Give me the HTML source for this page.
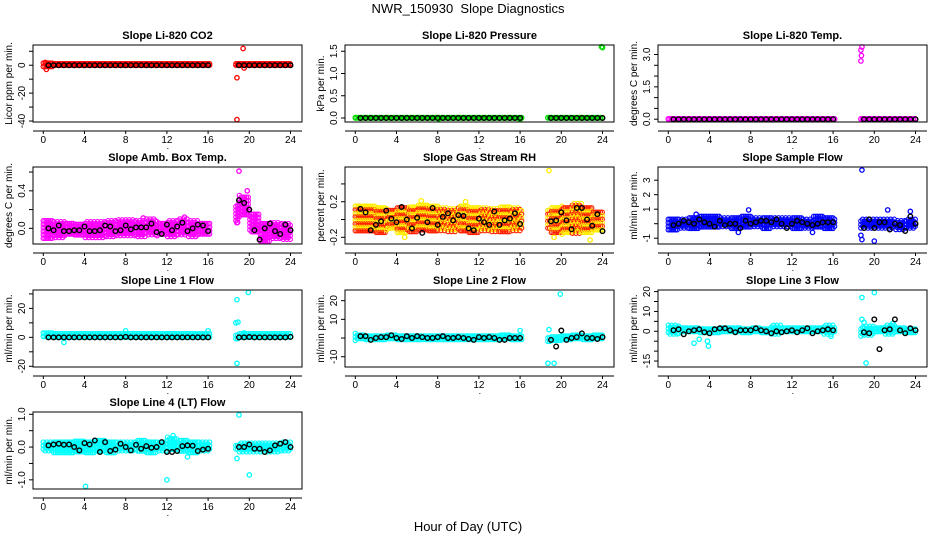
<!DOCTYPE html>
<html><head><meta charset="utf-8"><style>
html,body{margin:0;padding:0;background:#fff;}
svg{display:block;font-family:"Liberation Sans",sans-serif;}
</style></head><body>
<svg id="chart" width="936" height="540" viewBox="0 0 936 540">
<text x="468" y="13" text-anchor="middle" font-size="13">NWR_150930&#160;&#160;Slope Diagnostics</text>
<text x="468" y="531" text-anchor="middle" font-size="13">Hour of Day (UTC)</text>
</svg>
<script>
// shared hours for black (hourly mean) points
const meanHours = [0.5,1,1.5,2,2.5,3,3.5,4,4.5,5,5.5,6,6.5,7,7.5,8,8.5,9,9.5,10,10.5,11,11.5,12,12.5,13,13.5,14,14.5,15,15.5,16,19,19.5,20,20.5,21,21.5,22,22.5,23,23.5,24];
const xTicks = [0,4,8,12,16,20,24];

// CO2
const co2Mean = [0,0,0,0,0,0,0,0,0,0,0,0,0,0,0,0,0,0,0,0,0,0,0,0,0,0,0,0,0,0,0,0,0,0,0,0,0,0,0,0,0,0,0];
const co2Lo = [-1.5,-1,-1,-1,-1,-1,-1,-1,-1,-1,-1,-1,-1,-1,-1,-1,-1,null,-1,-1,-1,-1,-1,-1,-1];
const co2Hi = [1.5,1,1,1,1,1,1,1,1,1,1,1,1,1,1,1,1,null,1,1,1,1,1,1,1];
const co2OutX = [0.3,0.2,18.8,18.8,19.4,19.5];
const co2OutY = [-3,2,-9,-39,12,-2];
// Pressure
const presMean = [0,0,0,0,0,0,0,0,0,0,0,0,0,0,0,0,0,0,0,0,0,0,0,0,0,0,0,0,0,0,0,0,0,0,0,0,0,0,0,0,0,0,0];
const presLo = [-0.01,-0.01,-0.01,-0.01,-0.01,-0.01,-0.01,-0.01,-0.01,-0.01,-0.01,-0.01,-0.01,-0.01,-0.01,-0.01,-0.01,null,-0.01,-0.01,-0.01,-0.01,-0.01,-0.01,-0.01];
const presHi = [0.01,0.01,0.01,0.01,0.01,0.01,0.01,0.01,0.01,0.01,0.01,0.01,0.01,0.01,0.01,0.01,0.01,null,0.01,0.01,0.01,0.01,0.01,0.01,0.01];
const presOutX = [24,23.9,16,8.1];
const presOutY = [1.58,1.6,-0.03,-0.02];
// Li-820 temp
const tempMean = [0,0,0,0,0,0,0,0,0,0,0,0,0,0,0,0,0,0,0,0,0,0,0,0,0,0,0,0,0,0,0,0,0,0,0,0,0,0,0,0,0,0,0];
const tempLo = [-0.02,-0.02,-0.02,-0.02,-0.02,-0.02,-0.02,-0.02,-0.02,-0.02,-0.02,-0.02,-0.02,-0.02,-0.02,-0.02,-0.02,null,-0.02,-0.02,-0.02,-0.02,-0.02,-0.02,-0.02];
const tempHi = [0.02,0.02,0.02,0.02,0.02,0.02,0.02,0.02,0.02,0.02,0.02,0.02,0.02,0.02,0.02,0.02,0.02,null,0.02,0.02,0.02,0.02,0.02,0.02,0.02];
const tempOutX = [18.7,18.75,18.7,18.8];
const tempOutY = [3.2,2.95,2.7,3.35];
// Amb box temp
const ambMean = [0,-0.02,0.03,-0.03,-0.03,-0.02,-0.02,0.02,-0.03,-0.03,-0.02,0.03,0.02,-0.03,-0.02,0.03,-0.01,0.01,0.01,0.01,0.05,-0.04,-0.06,0.04,-0.02,0.02,0.06,-0.03,0,0.04,0.03,-0.03,0.3,0.27,0.2,-0.02,-0.12,0,0.05,-0.03,-0.06,0.04,-0.02];
const ambLo = [-0.12,-0.1,-0.09,-0.1,-0.1,-0.11,-0.1,-0.09,-0.09,-0.1,-0.08,-0.09,-0.1,-0.08,-0.09,-0.09,-0.07,null,0.05,0.12,-0.05,-0.15,-0.12,-0.12,-0.1];
const ambHi = [0.08,0.07,0.07,0.06,0.07,0.07,0.08,0.09,0.09,0.08,0.1,0.07,0.08,0.1,0.08,0.07,0.07,null,0.25,0.35,0.15,0.05,0.06,0.05,0.05];
const ambOutX = [19,18.8,19.8,13.7,9.7];
const ambOutY = [0.61,0.06,0.4,0.12,0.11];
// Gas stream RH
const rhMean = [0.12,0.08,-0.12,-0.06,-0.02,0.1,0.01,-0.03,0.14,0,-0.1,0.02,-0.15,-0.03,0.13,-0.06,0.03,0.07,-0.01,0.05,0.04,-0.1,-0.12,0.01,-0.03,-0.06,0.09,-0.06,-0.01,0.01,0.07,-0.05,-0.02,-0.01,0.08,-0.01,-0.11,0.13,0.13,0,-0.07,0.06,-0.13];
const rhLo = [-0.13,-0.15,-0.15,-0.13,-0.15,-0.14,-0.15,-0.15,-0.13,-0.15,-0.14,-0.15,-0.14,-0.15,-0.15,-0.13,-0.1,null,-0.1,-0.17,-0.18,-0.16,-0.15,-0.15,-0.12];
const rhHi = [0.15,0.15,0.13,0.12,0.15,0.14,0.16,0.15,0.13,0.12,0.15,0.13,0.13,0.12,0.14,0.13,0.1,null,0.1,0.13,0.15,0.18,0.15,0.1,0.05];
const rhOutX = [18.8,6.4,4.8,22.8,10.7,19.3];
const rhOutY = [0.55,0.21,-0.2,-0.23,0.2,-0.2];
// Sample flow
const sfMean = [-0.1,0,0.2,0.1,0,0.3,0.1,0,-0.2,0.2,-0.1,0,0,-0.3,0.2,0,0.1,0.2,0.2,0.1,0.3,0,-0.3,0,0.2,0.1,0,-0.1,0,0.1,0.1,0.1,-0.3,0.3,-0.3,0.1,0.1,-0.4,0,-0.1,-0.5,0.5,0];
const sfLo = [-0.5,-0.4,-0.4,-0.4,-0.4,-0.3,-0.4,-0.3,-0.3,-0.4,-0.3,-0.3,-0.4,-0.4,-0.3,-0.4,-0.4,null,-0.3,-0.4,-0.4,-0.3,-0.4,-0.4,-0.3];
const sfHi = [0.3,0.3,0.4,0.5,0.5,0.4,0.4,0.5,0.4,0.4,0.4,0.4,0.4,0.3,0.5,0.4,0.3,null,0.3,0.3,0.3,0.3,0.2,0.3,0.3];
const sfOutX = [7.8,18.8,18.7,18.8,20,21.3,23.5,6.8,14,2.7];
const sfOutY = [0.95,3.7,-0.8,-1.1,-1.2,0.95,0.85,-0.6,-0.6,0.65];
// Line 1
const l1Mean = [0,0,0,0,0,0,0,0,0,0,0,0,0,0,0,0.3,0,0,0,0,0,0,0,0,0,0,0,0,0,0,0,0,0,0,0.2,0,0,0,0,0,0,0,0.3];
const l1Lo = [-1.5,-1.5,-2,-1.5,-1.5,-1.5,-1.5,-1.5,-1.5,-1.5,-1.5,-1.5,-1.5,-1.5,-1.5,-1.5,-1.5,null,-1.5,-1.5,-2,-1.5,-1.5,-1.5,-1.5];
const l1Hi = [3,2.5,2.5,2.5,2.5,2.5,2.5,2.5,2.5,2.5,2.5,2.5,2.5,2.5,2.5,2.5,2.5,null,1.5,2.5,2.5,2.5,2.5,2.5,2.5];
const l1OutX = [18.8,19.9,18.7,18.9,18.8,2,8,16,12,19.5];
const l1OutY = [26,31,10,10.5,-18,-3.5,4.5,4.5,2.5,3];
// Line 2
const l2Mean = [1,1,-1,0,0.5,0.5,1.5,0,-0.5,1,0,1,0.5,0,0,0.5,1,0,0,0.5,0,-0.5,-1,0.5,0,0.5,0,-1,-1,0,0,0,-1,-4.5,4,-1,0,0.5,2.5,0,0,-0.5,0.5];
const l2Lo = [-1.5,-1.5,-1.5,-1.5,-1.5,-1.5,-1.5,-1.5,-1.5,-1.5,-1.5,-1.5,-1.5,-1.5,-1.5,-1.5,-1.5,null,-2,-2,-2,-1.5,-1.5,-1.5,-1.5];
const l2Hi = [2.5,2,2,2.5,2,2,2,2,2,2,2,2,2,2,2.5,2,2,null,1,1.5,2,2.5,2,2.5,2];
const l2OutX = [19.9,18.7,19.3,18.8,16];
const l2OutY = [23.5,-13.5,-13.5,4.5,4];
// Line 3
const l3Mean = [0.5,1,-1.5,0,0.5,1,-0.5,-1,1,1.5,1.5,0.5,-0.5,0.5,0.5,0.5,1.5,0.5,0,-1,0,-0.5,0,0.5,-0.5,0.5,1.5,-1,0,0.5,1,0.5,-0.5,-1,6,-9,0.5,1,6,0.5,-1,1.5,0.5];
const l3Lo = [-1.5,-1.5,-1.5,-1.5,-1.5,-1.5,-1.5,-1.5,-1.5,-1.5,-1.5,-1.5,-1.5,-1.5,-1.5,-1.5,-1.5,null,-2.5,-2,-1.5,-1.5,-1.5,-1.5,-1.5];
const l3Hi = [3,2.5,2.5,2,2,2.5,2.5,2,2.5,2,3,2.5,2.5,2.5,2.5,3,2.5,null,2,2.5,2.5,3,2.5,2,2];
const l3OutX = [2.5,3,3.8,3.9,18.8,20,18.8,19,19.2,15.8,21.8];
const l3OutY = [-6,-4,-5,-7.5,17,19.5,6,4.5,-16,-2.5,4];
// Line 4
const l4Mean = [0.05,0.08,0.1,0.07,0.08,0,-0.1,0.12,0.08,0.2,-0.15,0.15,-0.12,-0.08,0.1,0,-0.1,0.07,-0.05,0.03,-0.02,0,0.15,-0.15,-0.15,-0.12,0.03,0.05,0.04,-0.12,-0.08,-0.05,0,0,0.08,-0.05,-0.05,-0.15,-0.1,0.05,0.1,0.15,0];
const l4Lo = [-0.15,-0.18,-0.2,-0.15,-0.2,-0.15,-0.2,-0.15,-0.15,-0.15,-0.18,-0.15,-0.15,-0.15,-0.2,-0.15,-0.15,null,-0.15,-0.2,-0.2,-0.15,-0.15,-0.15,-0.12];
const l4Hi = [0.15,0.15,0.15,0.18,0.15,0.2,0.15,0.15,0.15,0.2,0.15,0.15,0.3,0.2,0.15,0.15,0.15,null,0.1,0.12,0.12,0.12,0.12,0.15,0.15];
const l4OutX = [4.1,12,19,18.8,20,12.6,14];
const l4OutY = [-1.2,-1.0,0.98,-0.35,-0.85,0.35,-0.3];

const panels = [
 {id:'co2',title:'Slope Li-820 CO2',yl:'Licor ppm per min.',L:33,T:45,ymin:-40.7,ymax:14.5,ticks:[-40,-30,-20,-10,0,10],labs:[-40,-20,0],col:'#ff0000',mean:co2Mean,lo:co2Lo,hi:co2Hi,ox:co2OutX,oy:co2OutY},
 {id:'pressure',title:'Slope Li-820 Pressure',yl:'kPa per min.',L:345,T:45,ymin:-0.09,ymax:1.64,ticks:[0,0.5,1,1.5],labs:[0,0.5,1,1.5],fmt:1,col:'#00dd00',mean:presMean,lo:presLo,hi:presHi,ox:presOutX,oy:presOutY},
 {id:'temp',title:'Slope Li-820 Temp.',yl:'degrees C per min.',L:658,T:45,ymin:-0.13,ymax:3.44,ticks:[0,0.5,1,1.5,2,2.5,3],labs:[0,1.5,3],fmt:1,col:'#ff00ff',mean:tempMean,lo:tempLo,hi:tempHi,ox:tempOutX,oy:tempOutY},
 {id:'amb-box',title:'Slope Amb. Box Temp.',yl:'degrees C per min.',L:33,T:167,ymin:-0.167,ymax:0.654,ticks:[0,0.2,0.4,0.6],labs:[0,0.4],fmt:1,col:'#ff00ff',mean:ambMean,lo:ambLo,hi:ambHi,ox:ambOutX,oy:ambOutY},
 {id:'gas-rh',title:'Slope Gas Stream RH',yl:'percent per min.',L:345,T:167,ymin:-0.275,ymax:0.59,ticks:[-0.2,0,0.2,0.4],labs:[-0.2,0.2],fmt:1,col:'#ffee00',col2:'#ff2000',mean:rhMean,lo:rhLo,hi:rhHi,ox:rhOutX,oy:rhOutY},
 {id:'sample-flow',title:'Slope Sample Flow',yl:'ml/min per min.',L:658,T:167,ymin:-1.4,ymax:3.91,ticks:[-1,0,1,2,3],labs:[-1,1,2,3],col:'#0000ff',mean:sfMean,lo:sfLo,hi:sfHi,ox:sfOutX,oy:sfOutY},
 {id:'line1',title:'Slope Line 1 Flow',yl:'ml/min per min.',L:33,T:290,ymin:-20.5,ymax:32.7,ticks:[-20,-10,0,10,20,30],labs:[-20,0,20],col:'#00ffff',mean:l1Mean,lo:l1Lo,hi:l1Hi,ox:l1OutX,oy:l1OutY},
 {id:'line2',title:'Slope Line 2 Flow',yl:'ml/min per min.',L:345,T:290,ymin:-15.5,ymax:25.7,ticks:[-10,0,10,20],labs:[-10,10,20],col:'#00ffff',mean:l2Mean,lo:l2Lo,hi:l2Hi,ox:l2OutX,oy:l2OutY},
 {id:'line3',title:'Slope Line 3 Flow',yl:'ml/min per min.',L:658,T:290,ymin:-18,ymax:20.8,ticks:[-15,-10,-5,0,5,10,15,20],labs:[-15,0,10,20],col:'#00ffff',mean:l3Mean,lo:l3Lo,hi:l3Hi,ox:l3OutX,oy:l3OutY},
 {id:'line4',title:'Slope Line 4 (LT) Flow',yl:'ml/min per min.',L:33,T:412,ymin:-1.28,ymax:1.07,ticks:[-1,-0.5,0,0.5,1],labs:[-1,0,1],fmt:1,col:'#00ffff',mean:l4Mean,lo:l4Lo,hi:l4Hi,ox:l4OutX,oy:l4OutY}
];
const NS='http://www.w3.org/2000/svg';
const svg=document.getElementById('chart');
function mk(tag,attrs,parent){const e=document.createElementNS(NS,tag);for(const k in attrs)e.setAttribute(k,attrs[k]);(parent||svg).appendChild(e);return e;}
const W=269,H=77;
panels.forEach(p=>{
  const g=mk('g',{});
  
  
  const L=p.L,T=p.T,B=T+H,R=L+W;
  const sx=h=>L+10.3+h*(247.2/24);
  const sy=v=>B-(v-p.ymin)/(p.ymax-p.ymin)*H;
  const cg=mk('g',{fill:'none','stroke-width':1.1},g);
  
  
  let k=0;
  for(let h=0;h<=24.1;h+=0.17){
    if(h>16.2&&h<18.7)continue;
    const b=Math.min(24,Math.floor(h));
    const lo=p.lo[b],hi=p.hi[b];
    if(lo==null)continue;
    const y1=sy(hi),y0=sy(lo);
    const off=(k%2)*1.7;
    for(let y=y1+off;y<=y0+0.01;y+=3.5){
      mk('circle',{cx:sx(h).toFixed(1),cy:y.toFixed(1),r:2.2,stroke:(p.col2&&(k%2))?p.col2:p.col},cg);k++;
    }
    if(y0-y1<3.5){mk('circle',{cx:sx(h).toFixed(1),cy:((y0+y1)/2).toFixed(1),r:2.2,stroke:p.col},cg);k++;}
  }
  p.ox.forEach((x,i)=>{
    const c=mk('circle',{cx:sx(x),cy:sy(p.oy[i]),r:2.2,fill:'none',stroke:p.col,'stroke-width':1.3},g);
    
    
  });
  meanHours.forEach((x,i)=>{
    const c=mk('circle',{cx:sx(x),cy:sy(p.mean[i]),r:2.3,fill:'none',stroke:'#000','stroke-width':1.4},g);
    
    
  });
  const box=mk('rect',{x:L,y:T,width:W,height:H,fill:'none',stroke:'#000','stroke-width':1},g);
  
  
  const t=mk('text',{x:L+W/2,y:T-6,'text-anchor':'middle','font-size':11,'font-weight':'bold'},g);
  t.textContent=p.title;
  
  
  const ax=mk('line',{x1:L,x2:R,y1:B+9,y2:B+9,stroke:'#000'},g);
  
  
  xTicks.forEach(v=>{
    mk('line',{x1:sx(v),x2:sx(v),y1:B+9,y2:B+12,stroke:'#000'},g);
    const tl=mk('text',{x:sx(v),y:B+21,'text-anchor':'middle','font-size':10},g);
    tl.textContent=v;
    
    
  });
  const dot=mk('text',{x:sx(12)+1,y:B+27,'text-anchor':'middle','font-size':9},g);dot.textContent='.';
  p.ticks.forEach(v=>{mk('line',{x1:L-4,x2:L,y1:sy(v),y2:sy(v),stroke:'#000'},g);});
  p.labs.forEach(v=>{
    const yy=sy(v);
    const tl=mk('text',{x:L-8,y:yy,'text-anchor':'middle','font-size':10,transform:`rotate(-90 ${L-8} ${yy})`},g);
    tl.textContent=p.fmt?v.toFixed(1):String(v);
    
    
  });
  const yt=mk('text',{x:L-21,y:T+H/2,'text-anchor':'middle','font-size':10,transform:`rotate(-90 ${L-21} ${T+H/2})`},g);
  yt.textContent=p.yl;
  
  
});
</script>
</body></html>
